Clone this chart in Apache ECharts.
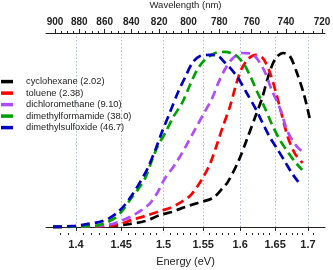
<!DOCTYPE html>
<html><head><meta charset="utf-8">
<script src="https://cdn.jsdelivr.net/npm/echarts@6/dist/echarts.min.js"></script>
<style>html,body{margin:0;padding:0;background:#fff}#c{width:333px;height:270px}</style>
</head><body><div id="c"></div>
<script>
// Series names
const names = ['cyclohexane (2.02)','toluene (2.38)','dichloromethane (9.10)','dimethylformamide (38.0)','dimethylsulfoxide (46.7)'];
const colors = ['#000000','#ff0000','#b04cff','#00a000','#0000c0'];

// Energy (eV) / normalized intensity
const cyE = [1.376,1.437,1.460,1.478,1.496,1.510,1.527,1.543,1.563,1.576,1.583,1.597,1.609,1.621,1.631,1.642,1.651,1.662,1.672,1.683,1.694,1.703];
const cyI = [0,0.006,0.017,0.034,0.069,0.086,0.115,0.138,0.167,0.224,0.259,0.374,0.500,0.632,0.741,0.891,0.971,1.000,0.983,0.885,0.759,0.621];

const toE = [1.376,1.437,1.449,1.462,1.478,1.496,1.508,1.520,1.533,1.542,1.551,1.559,1.568,1.576,1.586,1.594,1.601,1.611,1.622,1.632,1.642,1.651,1.660,1.669,1.680,1.692];
const toI = [0,0.006,0.017,0.040,0.063,0.092,0.109,0.138,0.178,0.230,0.293,0.362,0.471,0.575,0.695,0.816,0.902,0.966,0.989,0.971,0.891,0.776,0.644,0.517,0.420,0.368];

const dcE = [1.376,1.426,1.440,1.449,1.460,1.474,1.484,1.493,1.502,1.512,1.520,1.528,1.539,1.552,1.562,1.570,1.580,1.590,1.603,1.617,1.625,1.635,1.645,1.657,1.669,1.682,1.694];
const dcI = [0,0.006,0.017,0.034,0.057,0.098,0.138,0.201,0.282,0.345,0.402,0.466,0.557,0.661,0.741,0.828,0.914,0.971,1.000,0.994,0.960,0.891,0.787,0.684,0.546,0.466,0.425];

const dfE = [1.376,1.421,1.432,1.443,1.451,1.460,1.469,1.478,1.486,1.493,1.502,1.512,1.523,1.533,1.542,1.552,1.566,1.579,1.593,1.604,1.614,1.624,1.635,1.645,1.657,1.669,1.680,1.691];
const dfI = [0,0.006,0.023,0.052,0.092,0.155,0.213,0.282,0.385,0.466,0.540,0.632,0.713,0.816,0.902,0.960,1.000,1.006,0.989,0.943,0.868,0.776,0.684,0.592,0.500,0.431,0.374,0.328];

const dsE = [1.376,1.399,1.413,1.426,1.435,1.445,1.454,1.464,1.472,1.481,1.490,1.498,1.508,1.518,1.527,1.536,1.546,1.559,1.570,1.578,1.586,1.597,1.609,1.621,1.631,1.642,1.654,1.665,1.675,1.685];
const dsI = [0,0.006,0.017,0.029,0.046,0.080,0.126,0.195,0.259,0.339,0.443,0.546,0.661,0.776,0.862,0.943,0.983,0.989,0.983,0.948,0.914,0.856,0.770,0.684,0.603,0.517,0.443,0.374,0.310,0.259];

// Tick labels
const energyTicks = [1.4,1.45,1.5,1.55,1.6,1.65,1.7];
const waveTicks = [900,880,860,840,820,800,780,760,740,720];

const HC = 1240;
const seriesE = [cyE,toE,dcE,dfE,dsE];
const seriesI = [cyI,toI,dcI,dfI,dsI];

// bottom axis is linear in wavelength (nm), labelled in eV
const bottomMajor = energyTicks.map(e => HC / e);
const bottomMinor = [];
for (let i = 0; i < energyTicks.length - 1; i++) {
  for (let k = 1; k < 6; k++) bottomMinor.push(HC / (energyTicks[i] + (energyTicks[i+1]-energyTicks[i]) * k / 6));
}
for (let k = 1; k < 3; k++) bottomMinor.push(HC / (1.4 - 0.05 * k / 6));
bottomMinor.push(HC / (1.7 + 0.05 / 6));
// top axis is linear in energy, labelled in nm
const topMajor = waveTicks.map(l => HC / l);
const topMinor = [];
for (let i = 0; i < waveTicks.length - 1; i++) {
  for (let k = 1; k < 4; k++) topMinor.push(HC / (waveTicks[i] - 20 * k / 4));
}

const FONT = 'Liberation Sans';
const chart = echarts.init(document.getElementById('c'), null, {renderer:'canvas'});
chart.setOption({
  animation: false,
  backgroundColor: '#fff',
  grid: {left: 46, right: 8, top: 33, bottom: 37, containLabel: false, outerBoundsMode: 'none'},
  legend: {
    left: 1, top: 77, orient: 'vertical', padding: 0, itemGap: 2.3,
    itemWidth: 12, itemHeight: 3.5, icon: 'rect', selectedMode: false,
    textStyle: {fontFamily: FONT, fontSize: 9.3, color: '#222', lineHeight: 9.2, padding: [0,0,0,8]},
    data: names
  },
  xAxis: [
    {
      type: 'value', position: 'bottom', inverse: true, min: 717.9, max: 905.9,
      name: 'Energy (eV)', nameLocation: 'middle', nameGap: 23,
      nameTextStyle: {fontFamily: FONT, fontSize: 11, color: '#222'},
      axisLine: {show: true, lineStyle: {color: '#222', width: 1}},
      axisTick: {show: true, length: 4, customValues: bottomMajor, lineStyle: {color: '#222'}},
      axisLabel: {customValues: bottomMajor, margin: 6, fontFamily: FONT, fontSize: 11, fontWeight: 'bold', color: '#222',
        formatter: v => String(Math.round(HC / v * 100) / 100)},
      splitLine: {show: true, lineStyle: {color: '#b4bfd6', type: [1.5,2], width: 1}}
    },
    {
      type: 'value', position: 'top', min: 1.36617, max: 1.72609,
      name: 'Wavelength (nm)', nameLocation: 'middle', nameGap: 23,
      nameTextStyle: {fontFamily: FONT, fontSize: 9.5, color: '#222'},
      axisLine: {show: true, lineStyle: {color: '#222', width: 1}},
      axisTick: {show: true, length: 4, customValues: topMajor, lineStyle: {color: '#222'}},
      axisLabel: {customValues: topMajor, margin: 6, fontFamily: FONT, fontSize: 10, fontWeight: 'bold', color: '#222',
        formatter: v => String(Math.round(HC / v))},
      splitLine: {show: false}
    },
    {
      type: 'value', position: 'bottom', inverse: true, min: 717.9, max: 905.9,
      axisLine: {show: false},
      axisTick: {show: true, length: 2, customValues: bottomMinor, lineStyle: {color: '#222'}},
      axisLabel: {show: false}, splitLine: {show: false}
    },
    {
      type: 'value', position: 'top', min: 1.36617, max: 1.72609,
      axisLine: {show: false},
      axisTick: {show: true, length: 2, customValues: topMinor, lineStyle: {color: '#222'}},
      axisLabel: {show: false}, splitLine: {show: false}
    }
  ],
  yAxis: {type: 'value', show: false, min: -0.035, max: 1.115},
  series: names.map((n, s) => ({
    name: n, type: 'line', xAxisIndex: 0, showSymbol: false, smooth: 0.3,
    itemStyle: {color: colors[s]},
    lineStyle: {color: colors[s], width: 2.7, type: [9,5], cap: 'butt'},
    data: seriesE[s].map((e, i) => [HC / e, seriesI[s][i]])
  }))
});
</script></body></html>
